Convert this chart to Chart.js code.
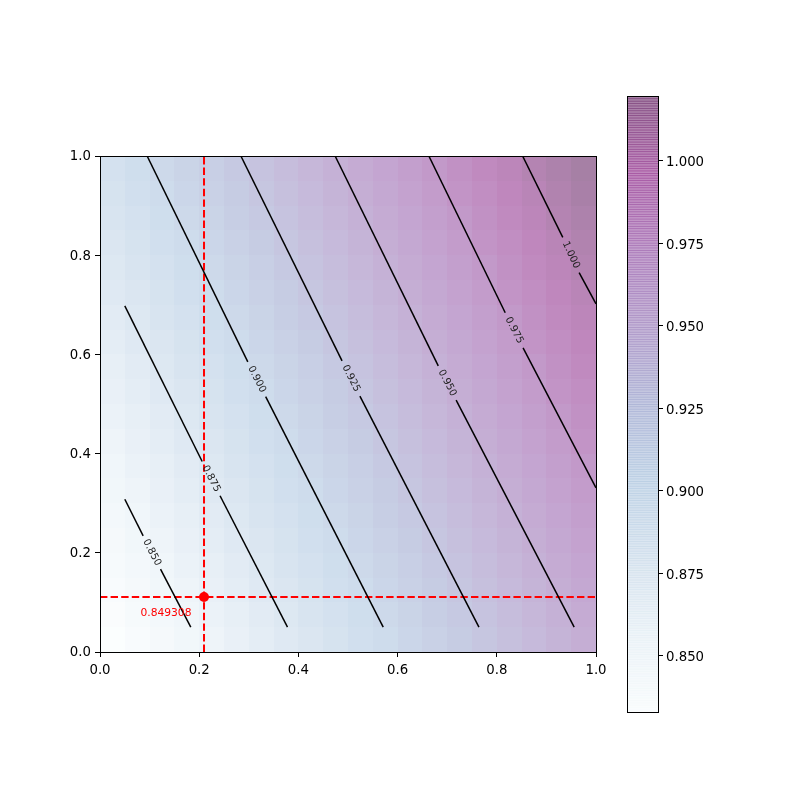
<!DOCTYPE html>
<html>
<head>
<meta charset="utf-8">
<script src="https://cdn.jsdelivr.net/npm/chart.js@4"></script>
<style>
  body { margin: 0; background: #fff; }
  canvas { position: absolute; left: 0; top: 0; }
</style>
</head>
<body>
<canvas id="main" width="800" height="800"></canvas>
<canvas id="cbar" width="800" height="800"></canvas>
<script>
// grid cell edges (imshow extent 0..1, 20 x 20)
const xEdges = [0,0.05,0.1,0.15,0.2,0.25,0.3,0.35,0.4,0.45,0.5,0.55,0.6,0.65,0.7,0.75,0.8,0.85,0.9,0.95,1.0];
const yEdges = [0,0.05,0.1,0.15,0.2,0.25,0.3,0.35,0.4,0.45,0.5,0.55,0.6,0.65,0.7,0.75,0.8,0.85,0.9,0.95,1.0];

// cell values, bottom row first
const heat = [
  [0.833,0.840,0.846,0.853,0.859,0.866,0.872,0.879,0.885,0.892,0.899,0.905,0.912,0.918,0.925,0.931,0.938,0.944,0.951,0.958],
  [0.836,0.843,0.849,0.856,0.863,0.869,0.876,0.882,0.889,0.895,0.902,0.908,0.915,0.922,0.928,0.935,0.941,0.948,0.954,0.961],
  [0.840,0.846,0.853,0.859,0.866,0.872,0.879,0.886,0.892,0.899,0.905,0.912,0.918,0.925,0.931,0.938,0.944,0.951,0.958,0.964],
  [0.843,0.849,0.856,0.863,0.869,0.876,0.882,0.889,0.895,0.902,0.908,0.915,0.921,0.928,0.935,0.941,0.948,0.954,0.961,0.967],
  [0.846,0.853,0.859,0.866,0.872,0.879,0.885,0.892,0.899,0.905,0.912,0.918,0.925,0.931,0.938,0.944,0.951,0.958,0.964,0.971],
  [0.849,0.856,0.863,0.869,0.876,0.882,0.889,0.895,0.902,0.908,0.915,0.922,0.928,0.935,0.941,0.948,0.954,0.961,0.967,0.974],
  [0.853,0.859,0.866,0.872,0.879,0.886,0.892,0.899,0.905,0.912,0.918,0.925,0.931,0.938,0.944,0.951,0.958,0.964,0.971,0.977],
  [0.856,0.863,0.869,0.876,0.882,0.889,0.895,0.902,0.908,0.915,0.921,0.928,0.935,0.941,0.948,0.954,0.961,0.967,0.974,0.980],
  [0.859,0.866,0.872,0.879,0.885,0.892,0.899,0.905,0.912,0.918,0.925,0.931,0.938,0.944,0.951,0.958,0.964,0.971,0.977,0.984],
  [0.863,0.869,0.876,0.882,0.889,0.895,0.902,0.908,0.915,0.922,0.928,0.935,0.941,0.948,0.954,0.961,0.967,0.974,0.980,0.987],
  [0.866,0.872,0.879,0.886,0.892,0.899,0.905,0.912,0.918,0.925,0.931,0.938,0.944,0.951,0.958,0.964,0.971,0.977,0.984,0.990],
  [0.869,0.876,0.882,0.889,0.895,0.902,0.908,0.915,0.921,0.928,0.935,0.941,0.948,0.954,0.961,0.967,0.974,0.980,0.987,0.994],
  [0.872,0.879,0.885,0.892,0.899,0.905,0.912,0.918,0.925,0.931,0.938,0.944,0.951,0.958,0.964,0.971,0.977,0.984,0.990,0.997],
  [0.876,0.882,0.889,0.895,0.902,0.908,0.915,0.922,0.928,0.935,0.941,0.948,0.954,0.961,0.967,0.974,0.980,0.987,0.994,1.000],
  [0.879,0.886,0.892,0.899,0.905,0.912,0.918,0.925,0.931,0.938,0.944,0.951,0.958,0.964,0.971,0.977,0.984,0.990,0.997,1.003],
  [0.882,0.889,0.895,0.902,0.908,0.915,0.921,0.928,0.935,0.941,0.948,0.954,0.961,0.967,0.974,0.980,0.987,0.994,1.000,1.007],
  [0.885,0.892,0.899,0.905,0.912,0.918,0.925,0.931,0.938,0.944,0.951,0.958,0.964,0.971,0.977,0.984,0.990,0.997,1.003,1.010],
  [0.889,0.895,0.902,0.908,0.915,0.922,0.928,0.935,0.941,0.948,0.954,0.961,0.967,0.974,0.980,0.987,0.994,1.000,1.007,1.013],
  [0.892,0.899,0.905,0.912,0.918,0.925,0.931,0.938,0.944,0.951,0.958,0.964,0.971,0.977,0.984,0.990,0.997,1.003,1.010,1.017],
  [0.895,0.902,0.908,0.915,0.921,0.928,0.935,0.941,0.948,0.954,0.961,0.967,0.974,0.980,0.987,0.994,1.000,1.007,1.013,1.020]
];

// contour lines: level, start, gap (label) start/end, end
const levels    = ['0.850','0.875','0.900','0.925','0.950','0.975','1.000'];
const lineStart = [[0.050,0.308],[0.050,0.698],[0.095,1.0],[0.284,1.0],[0.474,1.0],[0.663,1.0],[0.852,1.0]];
const gapStart  = [[0.087,0.234],[0.206,0.384],[0.298,0.585],[0.488,0.587],[0.682,0.577],[0.817,0.684],[0.933,0.836]];
const gapEnd    = [[0.122,0.167],[0.242,0.315],[0.334,0.515],[0.524,0.516],[0.718,0.508],[0.853,0.613],[0.966,0.765]];
const lineEnd   = [[0.183,0.050],[0.378,0.050],[0.571,0.050],[0.764,0.050],[0.956,0.050],[1.0,0.331],[1.0,0.702]];

// marked point
const markX = 0.2097;
const markY = 0.1109;
const markLabel = '0.849308';
const markLabelPos = [0.133, 0.078];

const xTicks = [0, 0.2, 0.4, 0.6, 0.8, 1.0];
const yTicks = [0, 0.2, 0.4, 0.6, 0.8, 1.0];
const cbMin = 0.833, cbMax = 1.0197;
const cbTicks = [0.850, 0.875, 0.900, 0.925, 0.950, 0.975, 1.000];

// BuPu
const bupu = [[247,252,253],[224,236,244],[191,211,230],[158,188,218],[140,150,198],[140,107,177],[136,65,157],[129,15,124],[77,0,75]];
function cmap(v) {
  let t = (v - cbMin) / (cbMax - cbMin);
  t = Math.max(0, Math.min(1, t));
  const s = t * (bupu.length - 1);
  const i = Math.min(Math.floor(s), bupu.length - 2);
  const f = s - i;
  const a = bupu[i], b = bupu[i + 1];
  return [0, 1, 2].map(k => a[k] + (b[k] - a[k]) * f);
}
function blended(v) { // alpha 0.5 over white
  const c = cmap(v);
  return 'rgb(' + c.map(k => Math.round(k * 0.5 + 127.5)).join(',') + ')';
}

Chart.defaults.font.family = 'DejaVu Sans';
Chart.defaults.font.size = 13.3;
Chart.defaults.color = '#000';

const heatmapPlugin = {
  id: 'heatmap',
  beforeDatasetsDraw(chart) {
    const { ctx, scales: { x, y } } = chart;
    ctx.save();
    for (let j = 0; j < heat.length; j++) {
      for (let i = 0; i < heat[j].length; i++) {
        const x0 = Math.round(x.getPixelForValue(xEdges[i]));
        const x1 = Math.round(x.getPixelForValue(xEdges[i + 1]));
        const y0 = Math.round(y.getPixelForValue(yEdges[j + 1]));
        const y1 = Math.round(y.getPixelForValue(yEdges[j]));
        ctx.fillStyle = blended(heat[j][i]);
        ctx.fillRect(x0, y0, x1 - x0, y1 - y0);
      }
    }
    ctx.restore();
  },
  afterDatasetsDraw(chart) {
    const { ctx, scales: { x, y }, chartArea: ca } = chart;
    ctx.save();
    // contour labels
    ctx.font = '10px DejaVu Sans';
    ctx.fillStyle = '#222';
    ctx.textAlign = 'center';
    ctx.textBaseline = 'middle';
    levels.forEach((lv, k) => {
      const ax = x.getPixelForValue(gapStart[k][0]), ay = y.getPixelForValue(gapStart[k][1]);
      const bx = x.getPixelForValue(gapEnd[k][0]), by = y.getPixelForValue(gapEnd[k][1]);
      ctx.save();
      ctx.translate((ax + bx) / 2, (ay + by) / 2);
      ctx.rotate(Math.atan2(by - ay, bx - ax));
      ctx.fillText(lv, 0, 0);
      ctx.restore();
    });
    // marked value text
    ctx.font = '10.7px DejaVu Sans';
    ctx.fillStyle = 'red';
    ctx.fillText(markLabel, x.getPixelForValue(markLabelPos[0]), y.getPixelForValue(markLabelPos[1]));
    // frame
    ctx.strokeStyle = '#000';
    ctx.lineWidth = 1;
    ctx.strokeRect(ca.left + 0.5, ca.top + 0.5, ca.right - ca.left, ca.bottom - ca.top);
    ctx.restore();
  }
};

const datasets = [];
levels.forEach((lv, k) => {
  [[lineStart[k], gapStart[k]], [gapEnd[k], lineEnd[k]]].forEach(seg => {
    datasets.push({
      label: lv,
      data: seg.map(p => ({ x: p[0], y: p[1] })),
      showLine: true,
      borderColor: '#000',
      borderWidth: 1.5,
      pointRadius: 0,
      fill: false
    });
  });
});
datasets.push({
  data: [{ x: markX, y: 0 }, { x: markX, y: 1 }],
  showLine: true, borderColor: 'red', borderWidth: 2, borderDash: [7.4, 3.2], pointRadius: 0
});
datasets.push({
  data: [{ x: 0, y: markY }, { x: 1, y: markY }],
  showLine: true, borderColor: 'red', borderWidth: 2, borderDash: [7.4, 3.2], pointRadius: 0
});
datasets.push({
  data: [{ x: markX, y: markY }],
  pointRadius: 5, pointBackgroundColor: 'red', pointBorderColor: 'red', borderWidth: 0
});

const axisCommon = {
  type: 'linear',
  min: 0, max: 1,
  grid: { display: true, drawOnChartArea: false, drawTicks: true, tickLength: 5, color: '#000', lineWidth: 1 },
  border: { display: false }
};

new Chart(document.getElementById('main'), {
  type: 'scatter',
  data: { datasets },
  options: {
    responsive: false,
    animation: false,
    events: [],
    layout: { padding: { left: 60, top: 156, right: 204, bottom: 108 } },
    plugins: { legend: { display: false }, tooltip: { enabled: false } },
    scales: {
      x: Object.assign({}, axisCommon, {
        position: 'bottom',
        afterFit: s => { s.height = 40; },
        afterBuildTicks: s => { s.ticks = xTicks.map(v => ({ value: v })); },
        ticks: { padding: 6, maxRotation: 0, callback: v => v.toFixed(1) }
      }),
      y: Object.assign({}, axisCommon, {
        position: 'left',
        afterFit: s => { s.width = 40; },
        afterBuildTicks: s => { s.ticks = yTicks.map(v => ({ value: v })); },
        ticks: { padding: 4, labelOffset: 1, callback: v => v.toFixed(1) }
      })
    }
  },
  plugins: [heatmapPlugin]
});

// colorbar
const cbPlugin = {
  id: 'cbfill',
  beforeDatasetsDraw(chart) {
    const { ctx, scales: { y }, chartArea: ca } = chart;
    const n = 256;
    ctx.save();
    for (let k = 0; k < n; k++) {
      const v0 = cbMin + (cbMax - cbMin) * k / n;
      const v1 = cbMin + (cbMax - cbMin) * (k + 1) / n;
      const c = cmap((v0 + v1) / 2);
      const p0 = y.getPixelForValue(v0), p1 = y.getPixelForValue(v1);
      ctx.fillStyle = 'rgba(' + c.map(Math.round).join(',') + ',0.5)';
      ctx.fillRect(ca.left, p1, ca.right - ca.left, p0 - p1 + 0.7);
    }
    ctx.strokeStyle = '#000';
    ctx.lineWidth = 1;
    ctx.strokeRect(ca.left + 0.5, ca.top + 0.5, ca.right - ca.left, ca.bottom - ca.top);
    ctx.restore();
  }
};

new Chart(document.getElementById('cbar'), {
  type: 'scatter',
  data: { datasets: [{ data: [] }] },
  options: {
    responsive: false,
    animation: false,
    events: [],
    layout: { padding: { left: 627, top: 96, right: 82, bottom: 88 } },
    plugins: { legend: { display: false }, tooltip: { enabled: false } },
    scales: {
      x: { display: false, min: 0, max: 1 },
      y: {
        type: 'linear',
        position: 'right',
        min: cbMin, max: cbMax,
        afterFit: s => { s.width = 60; },
        afterBuildTicks: s => { s.ticks = cbTicks.map(v => ({ value: v })); },
        grid: { display: true, drawOnChartArea: false, drawTicks: true, tickLength: 5, color: '#000', lineWidth: 1 },
        border: { display: false },
        ticks: { padding: 3, labelOffset: 2, callback: v => v.toFixed(3) }
      }
    }
  },
  plugins: [cbPlugin]
});
</script>
</body>
</html>
